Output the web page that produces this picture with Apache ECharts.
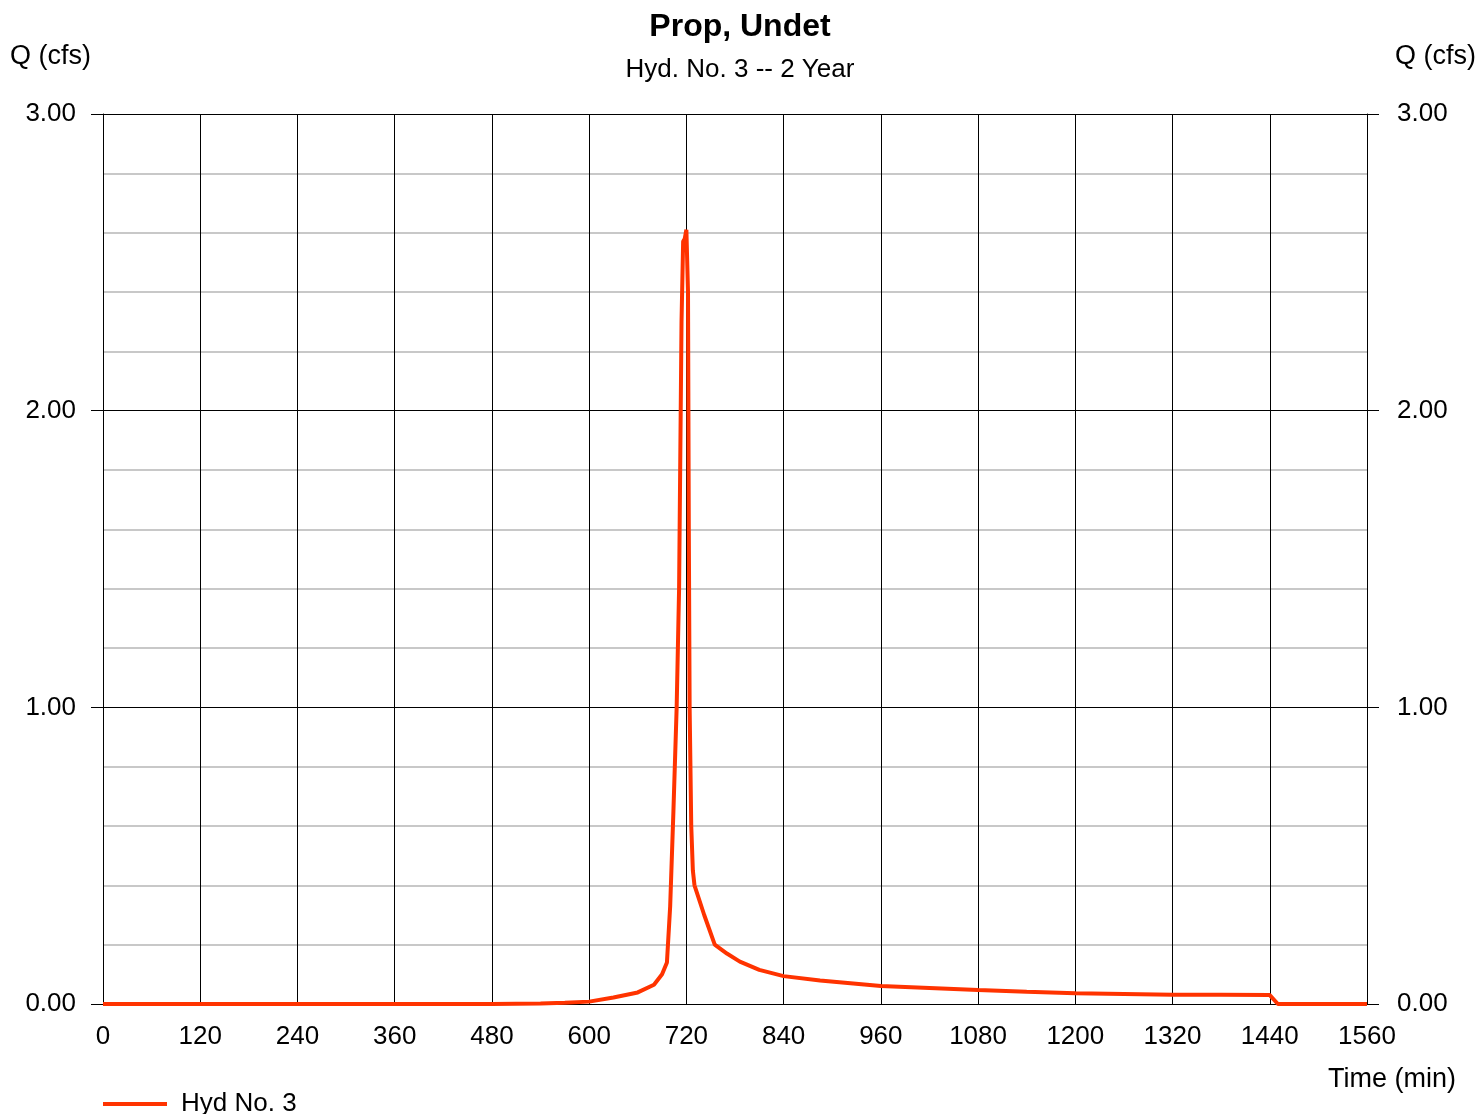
<!DOCTYPE html>
<html>
<head>
<meta charset="utf-8">
<script src="https://cdn.jsdelivr.net/npm/echarts@6/dist/echarts.min.js"></script>
<style>
  html, body { margin: 0; padding: 0; background: #fff; }
  #chart { width: 1478px; height: 1114px; }
</style>
</head>
<body>
<div id="chart"></div>
<script>
// hydrograph: time (min) and flow Q (cfs)
var times = [0, 480, 540, 570, 600, 630, 660, 680, 690, 696, 700, 704, 708, 711, 714, 716, 718, 720,
  722, 723, 724, 726, 728, 730, 742, 755, 770, 786, 810, 840, 885, 960, 1020, 1080, 1140, 1200,
  1260, 1320, 1380, 1440, 1450, 1560];
var flows = [0, 0, 0.002, 0.004, 0.008, 0.022, 0.039, 0.065, 0.10, 0.14, 0.33, 0.65, 1.0, 1.4, 2.3, 2.57, 2.58, 2.61,
  2.4, 1.6, 1.0, 0.6, 0.45, 0.40, 0.30, 0.20, 0.17, 0.143, 0.115, 0.094, 0.079, 0.061, 0.054, 0.047, 0.041, 0.036,
  0.034, 0.031, 0.031, 0.030, 0, 0];

var seriesName = 'Hyd No. 3';
var titleText = 'Prop, Undet';
var subText = 'Hyd. No. 3 -- 2 Year';

var font = '"Liberation Sans", Arial, sans-serif';

var data = [];
for (var i = 0; i < times.length; i++) {
  data.push([times[i], flows[i]]);
}

function yAxisCfg(pos) {
  return {
    type: 'value',
    position: pos,
    min: 0,
    max: 3,
    interval: 1,
    axisLine: { show: true, lineStyle: { color: '#000', width: 1 } },
    axisTick: { show: true, length: 12, lineStyle: { color: '#000' } },
    axisLabel: {
      margin: pos === 'left' ? 27 : 30,
      color: '#000',
      fontSize: 26,
      fontFamily: font,
      formatter: function (v) { return v.toFixed(2); }
    },
    splitLine: { show: pos === 'left', lineStyle: { color: '#000', width: 1 } },
    minorTick: { show: false, splitNumber: 5 },
    minorSplitLine: { show: pos === 'left', lineStyle: { color: '#c8c8c8', width: 2 } }
  };
}

var option = {
  animation: false,
  backgroundColor: '#fff',
  title: {
    text: titleText,
    subtext: subText,
    left: 735,
    textAlign: 'center',
    top: 6,
    itemGap: 14,
    textStyle: { color: '#000', fontSize: 32, fontWeight: 'bold', fontFamily: font },
    subtextStyle: { color: '#000', fontSize: 26, fontFamily: font }
  },
  grid: { left: 103, right: 111, top: 114, bottom: 110, containLabel: false },
  xAxis: {
    type: 'value',
    min: 0,
    max: 1560,
    interval: 120,
    axisLine: { show: true, onZero: false, lineStyle: { color: '#000' } },
    axisTick: { show: false },
    axisLabel: {
      margin: 20, color: '#000', fontSize: 26, fontFamily: font,
      formatter: function (v) { return String(v); }
    },
    splitLine: { show: true, lineStyle: { color: '#000', width: 1 } }
  },
  yAxis: [yAxisCfg('left'), yAxisCfg('right')],
  legend: {
    left: 98,
    top: 1086,
    icon: 'rect',
    itemWidth: 64,
    itemHeight: 4,
    itemGap: 10,
    textStyle: { color: '#000', fontSize: 26, fontFamily: font, padding: [0, 0, 0, 9] },
    data: [seriesName]
  },
  graphic: [
    { type: 'text', left: 10, top: 43, style: { text: 'Q (cfs)', fontSize: 27, fontFamily: font, fill: '#000' } },
    { type: 'text', right: 2, top: 43, style: { text: 'Q (cfs)', fontSize: 27, fontFamily: font, fill: '#000' } },
    { type: 'text', right: 22, top: 1066, style: { text: 'Time (min)', fontSize: 27, fontFamily: font, fill: '#000' } }
  ],
  series: [{
    name: seriesName,
    type: 'line',
    data: data,
    showSymbol: false,
    symbol: 'none',
    color: '#ff3300',
    lineStyle: { color: '#ff3300', width: 4 },
    z: 5
  }]
};

echarts.init(document.getElementById('chart'), null, { renderer: 'canvas' }).setOption(option);
</script>
</body>
</html>
